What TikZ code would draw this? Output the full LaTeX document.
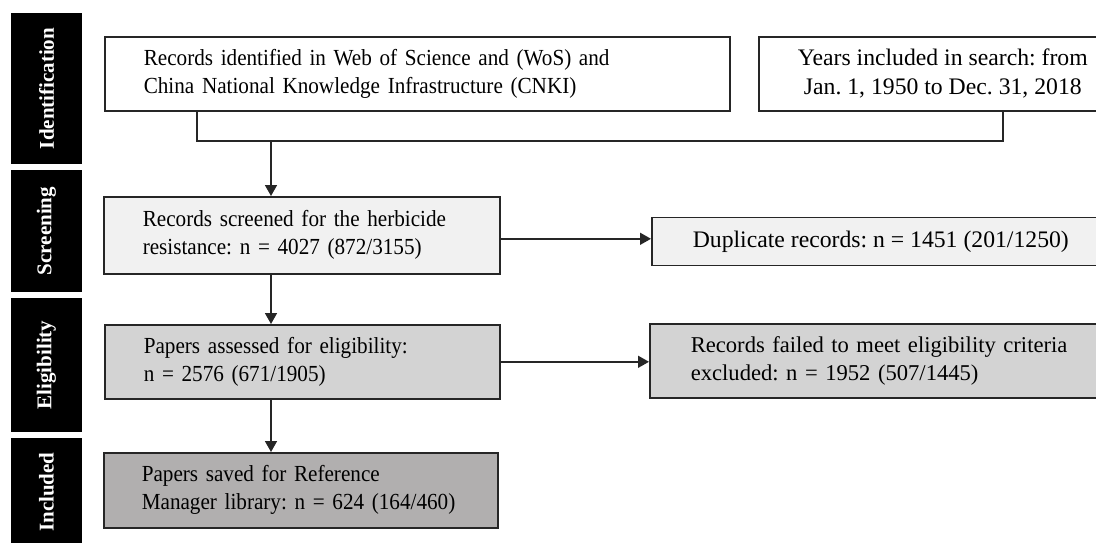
\documentclass[tikz,border=0pt]{standalone}
\usepackage{fontspec}
\setmainfont{Liberation Serif}[FakeStretch=0.92]
\newfontfamily\plainfont{Liberation Serif}
\usetikzlibrary{arrows.meta}
\definecolor{lightfill}{HTML}{F1F1F1}
\definecolor{midfill}{HTML}{D3D3D3}
\definecolor{darkfill}{HTML}{B1AFAF}
\definecolor{edge}{HTML}{262626}
\frenchspacing
\begin{document}
\begin{tikzpicture}[x=1pt,y=-1pt,
  bx/.style={draw=edge, line width=1.6pt, anchor=north west, inner ysep=0pt,
    font=\fontsize{23}{28}\selectfont},
  lbx/.style={bx, align=left},
  cbx/.style={bx, align=center, font=\plainfont\fontsize{23.7}{29}\selectfont},
  bar/.style={fill=black, text=white, rotate=90, inner sep=0pt,
    font=\plainfont\fontsize{21}{24}\selectfont\bfseries},
  arr/.style={line width=1.6pt, draw=edge, -{Triangle[length=11pt,width=12pt]}},
  ln/.style={line width=1.6pt, draw=edge}
]
\useasboundingbox (0,0) rectangle (1096,543);

% stage bars
\node[bar, minimum width=151pt, minimum height=71pt] (s1) at (46.5,88.5) {Identification};
\node[bar, minimum width=122pt, minimum height=71pt] (s2) at (46.5,231) {Screening};
\node[bar, minimum width=134pt, minimum height=71pt] (s3) at (46.5,365) {Eligibility};
\node[bar, minimum width=108pt, minimum height=71pt] (s4) at (46.5,492) {Included};

% boxes
\node[lbx, fill=white, text width=547pt, inner xsep=39pt, minimum height=74pt] (A) at (104,36)
  {\mbox{Records identified in Web of Science and (WoS) and}\\\mbox{China National Knowledge Infrastructure (CNKI)}};
\node[cbx, fill=white, minimum width=368pt, minimum height=74pt] (B) at (758,36)
  {Years included in search: from\\Jan. 1, 1950 to Dec. 31, 2018};
\node[lbx, fill=lightfill, text width=318pt, inner xsep=39pt, minimum height=77pt] (C) at (103,196)
  {\mbox{Records screened for the herbicide}\\\mbox{resistance: n = 4027 (872/3155)}};
\node[cbx, fill=lightfill, minimum width=458pt, minimum height=48pt] (D) at (651,216.5)
  {Duplicate records: n = 1451 (201/1250)};
\node[lbx, fill=midfill, text width=317pt, inner xsep=39pt, minimum height=74pt] (E) at (104,324)
  {\mbox{Papers assessed for eligibility:}\\\mbox{n = 2576 (671/1905)}};
\node[lbx, fill=midfill, text width=388pt, inner xsep=41pt, minimum height=74pt,
  font=\plainfont\fontsize{22.6}{28}\selectfont] (F) at (649,323)
  {\mbox{Records failed to meet eligibility criteria}\\\mbox{excluded: n = 1952 (507/1445)}};
\node[lbx, fill=darkfill, text width=318pt, inner xsep=38pt, minimum height=75pt] (G) at (103,452)
  {\mbox{Papers saved for Reference}\\\mbox{Manager library: n = 624 (164/460)}};

% connectors
\coordinate (j) at (271,141);
\draw[ln] ([xshift=93pt]A.south west) |- (j) -| ([xshift=245pt]B.south west);
\draw[arr] (j) -- (j |- C.north);
\draw[arr] ([yshift=-3.5pt]C.east) -- ([yshift=-3.5pt]C.east -| D.west);
\draw[arr] (j |- C.south) -- (j |- E.north);
\draw[arr] (E.east) -- (E.east -| F.west);
\draw[arr] (j |- E.south) -- (j |- G.north);
\end{tikzpicture}
\end{document}
